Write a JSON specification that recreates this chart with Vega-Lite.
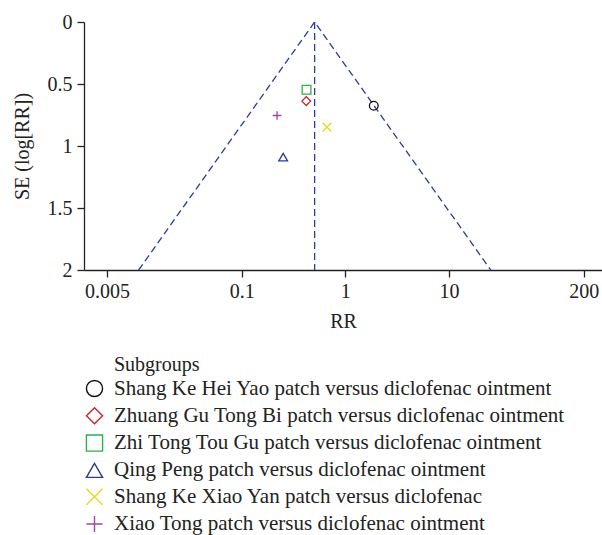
{
  "$schema": "https://vega.github.io/schema/vega-lite/v6.json",
  "autosize": {"type": "none"},
  "padding": {"left": 84, "top": 22, "right": 0, "bottom": 265},
  "width": 518,
  "height": 248,
  "background": "white",
  "config": {
    "view": {"stroke": null},
    "font": "Liberation Serif",
    "axis": {
      "labelFont": "Liberation Serif",
      "titleFont": "Liberation Serif",
      "labelFontSize": 20,
      "titleFontSize": 20,
      "titleFontWeight": "normal",
      "labelColor": "#222",
      "titleColor": "#222",
      "domainColor": "#222",
      "tickColor": "#222",
      "domainWidth": 1.3,
      "tickWidth": 1.3,
      "tickSize": 7,
      "grid": false
    },
    "legend": {
      "labelFont": "Liberation Serif",
      "titleFont": "Liberation Serif",
      "labelFontSize": 21,
      "titleFontSize": 20,
      "titleFontWeight": "normal",
      "labelColor": "#222",
      "titleColor": "#222",
      "labelLimit": 600
    }
  },
  "datasets": {
    "studies": [
      {"group": "Shang Ke Hei Yao patch versus diclofenac ointment", "rr": 1.88, "se": 0.676},
      {"group": "Zhuang Gu Tong Bi patch versus diclofenac ointment", "rr": 0.419, "se": 0.638},
      {"group": "Zhi Tong Tou Gu patch versus diclofenac ointment", "rr": 0.422, "se": 0.546},
      {"group": "Qing Peng patch versus diclofenac ointment", "rr": 0.251, "se": 1.09},
      {"group": "Shang Ke Xiao Yan patch versus diclofenac", "rr": 0.664, "se": 0.848},
      {"group": "Xiao Tong patch versus diclofenac ointment", "rr": 0.219, "se": 0.754}
    ],
    "funnel": [
      {"rr": 0.0101, "se": 2},
      {"rr": 0.505, "se": 0},
      {"rr": 25.3, "se": 2}
    ],
    "pooled": [
      {"rr": 0.505, "se": 0, "se2": 2}
    ]
  },
  "layer": [
    {
      "data": {"name": "funnel"},
      "mark": {"type": "line", "color": "#2b3a9e", "strokeWidth": 1.3, "strokeDash": [7, 4], "clip": true},
      "encoding": {
        "x": {"field": "rr", "type": "quantitative", "scale": {"type": "log", "domain": [0.003, 300], "nice": false},
          "axis": {"values": [0.005, 0.1, 1, 10, 200], "format": "~g", "title": "RR", "labelPadding": 4, "titlePadding": 10, "labelFlush": false}},
        "y": {"field": "se", "type": "quantitative", "scale": {"domain": [0, 2], "reverse": true, "nice": false},
          "axis": {"values": [0, 0.5, 1, 1.5, 2], "format": "~g", "title": "SE (log[RR])", "labelPadding": 5, "titlePadding": 15, "labelFlush": false}}
      }
    },
    {
      "data": {"name": "pooled"},
      "mark": {"type": "rule", "color": "#2b3a9e", "strokeWidth": 1.3, "strokeDash": [7, 4]},
      "encoding": {
        "x": {"field": "rr", "type": "quantitative"},
        "y": {"field": "se", "type": "quantitative"},
        "y2": {"field": "se2"}
      }
    },
    {
      "data": {"name": "studies"},
      "mark": {"type": "point", "filled": false, "size": 76, "strokeWidth": 1.3, "opacity": 1},
      "encoding": {
        "x": {"field": "rr", "type": "quantitative"},
        "y": {"field": "se", "type": "quantitative"},
        "color": {
          "field": "group", "type": "nominal",
          "scale": {
            "domain": [
              "Shang Ke Hei Yao patch versus diclofenac ointment",
              "Zhuang Gu Tong Bi patch versus diclofenac ointment",
              "Zhi Tong Tou Gu patch versus diclofenac ointment",
              "Qing Peng patch versus diclofenac ointment",
              "Shang Ke Xiao Yan patch versus diclofenac",
              "Xiao Tong patch versus diclofenac ointment"
            ],
            "range": ["#111111", "#c1272d", "#2bb04a", "#2e3a92", "#e2dc1e", "#a3449b"]
          },
          "legend": {
            "title": "\u200b\u00a0\u00a0\u00a0\u00a0\u00a0\u00a0Subgroups",
            "orient": "none",
            "legendX": 0,
            "legendY": 333,
            "symbolSize": 260,
            "symbolStrokeWidth": 1.4,
            "labelOffset": 9,
            "rowPadding": 4.3,
            "titlePadding": 3,
            "padding": 0
          }
        },
        "shape": {
          "field": "group", "type": "nominal",
          "scale": {
            "domain": [
              "Shang Ke Hei Yao patch versus diclofenac ointment",
              "Zhuang Gu Tong Bi patch versus diclofenac ointment",
              "Zhi Tong Tou Gu patch versus diclofenac ointment",
              "Qing Peng patch versus diclofenac ointment",
              "Shang Ke Xiao Yan patch versus diclofenac",
              "Xiao Tong patch versus diclofenac ointment"
            ],
            "range": ["circle", "diamond", "square", "triangle-up", "M-1,-1L1,1M-1,1L1,-1", "M-1,0L1,0M0,-1L0,1"]
          }
        }
      }
    }
  ]
}
